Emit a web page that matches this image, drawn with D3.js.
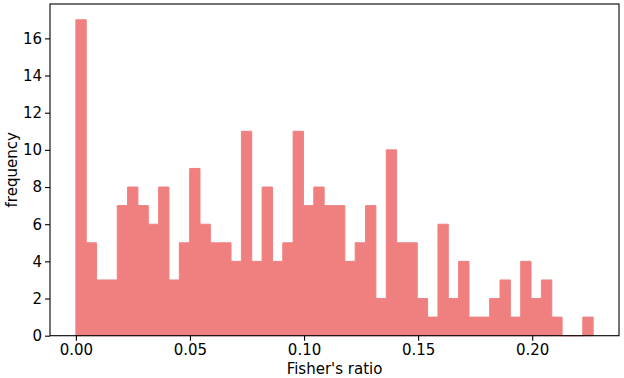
<!DOCTYPE html>
<html>
<head>
<meta charset="utf-8">
<script src="https://cdn.jsdelivr.net/npm/d3@7"></script>
<style>
  body { margin: 0; background: #fff; }
  svg text { font-family: "DejaVu Sans", sans-serif; fill: #000; }
</style>
</head>
<body>
<div class="canvas"></div>
<script>
/////////////////////////////////
//** DATA **//

// histogram counts, one per bin (50 bins from 0 to ~0.2267)
const counts = [17, 5, 3, 3, 7, 8, 7, 6, 8, 3,
                5, 9, 6, 5, 5, 4, 11, 4, 8, 4,
                5, 11, 7, 8, 7, 7, 4, 5, 7, 2,
                10, 5, 5, 2, 1, 6, 2, 4, 1, 1,
                2, 3, 1, 4, 2, 3, 1, 0, 0, 1];
const binRange = [0, 0.2267];
const xTicks = [0, 0.05, 0.10, 0.15, 0.20];
const yTicks = [0, 2, 4, 6, 8, 10, 12, 14, 16];

/////////////////////////////////
//** DIMENSIONS **//

const W = 624, H = 378;
const plot = { left: 50, right: 619, top: 4, bottom: 335.7 };
const fontSize = '15px';

const binW = (binRange[1] - binRange[0]) / counts.length;
const bins = counts.map((c, i) => ({ x0: binRange[0] + i * binW, x1: binRange[0] + (i + 1) * binW, c }));

const pad = 0.05 * (binRange[1] - binRange[0]);
const x = d3.scaleLinear()
    .domain([binRange[0] - pad, binRange[1] + pad])
    .range([plot.left, plot.right]);

const y = d3.scaleLinear()
    .domain([0, d3.max(counts) * 1.05])
    .range([plot.bottom, plot.top]);

const svg = d3.select('.canvas')
    .append('svg')
    .attr('width', W)
    .attr('height', H);

// step outline of the histogram (stepfilled)
const pts = [[bins[0].x0, 0]];
bins.forEach(b => { pts.push([b.x0, b.c]); pts.push([b.x1, b.c]); });
pts.push([bins[bins.length - 1].x1, 0]);

svg.append('path')
    .attr('d', d3.line().x(d => x(d[0])).y(d => y(d[1]))(pts) + 'Z')
    .attr('fill', '#f08080')
    .attr('stroke', '#f08080')
    .attr('stroke-width', 1)
    .attr('stroke-linejoin', 'miter');

/////////////////////////////////
//** AXES **//

const xAxis = svg.append('g')
    .attr('transform', `translate(0, ${plot.bottom})`)
    .call(d3.axisBottom(x).tickValues(xTicks).tickFormat(d3.format('.2f')).tickSize(5).tickPadding(3.5));

const yAxis = svg.append('g')
    .attr('transform', `translate(${plot.left}, 0)`)
    .call(d3.axisLeft(y).tickValues(yTicks).tickSize(5).tickPadding(3));

[xAxis, yAxis].forEach(a => {
    a.select('.domain').remove();
    a.selectAll('line').attr('stroke', '#000').attr('stroke-width', 1.1);
    a.selectAll('text').style('font-size', fontSize).attr('fill', '#000');
});

// frame
svg.append('rect')
    .attr('x', plot.left)
    .attr('y', plot.top)
    .attr('width', plot.right - plot.left)
    .attr('height', plot.bottom - plot.top)
    .attr('fill', 'none')
    .attr('stroke', '#000')
    .attr('stroke-width', 1.1);

// labels
svg.append('text')
    .attr('x', (plot.left + plot.right) / 2)
    .attr('y', 374)
    .attr('text-anchor', 'middle')
    .style('font-size', fontSize)
    .text("Fisher's ratio");

svg.append('text')
    .attr('transform', `translate(16.5, ${(plot.top + plot.bottom) / 2}) rotate(-90)`)
    .attr('text-anchor', 'middle')
    .style('font-size', fontSize)
    .text('frequency');
</script>
</body>
</html>
